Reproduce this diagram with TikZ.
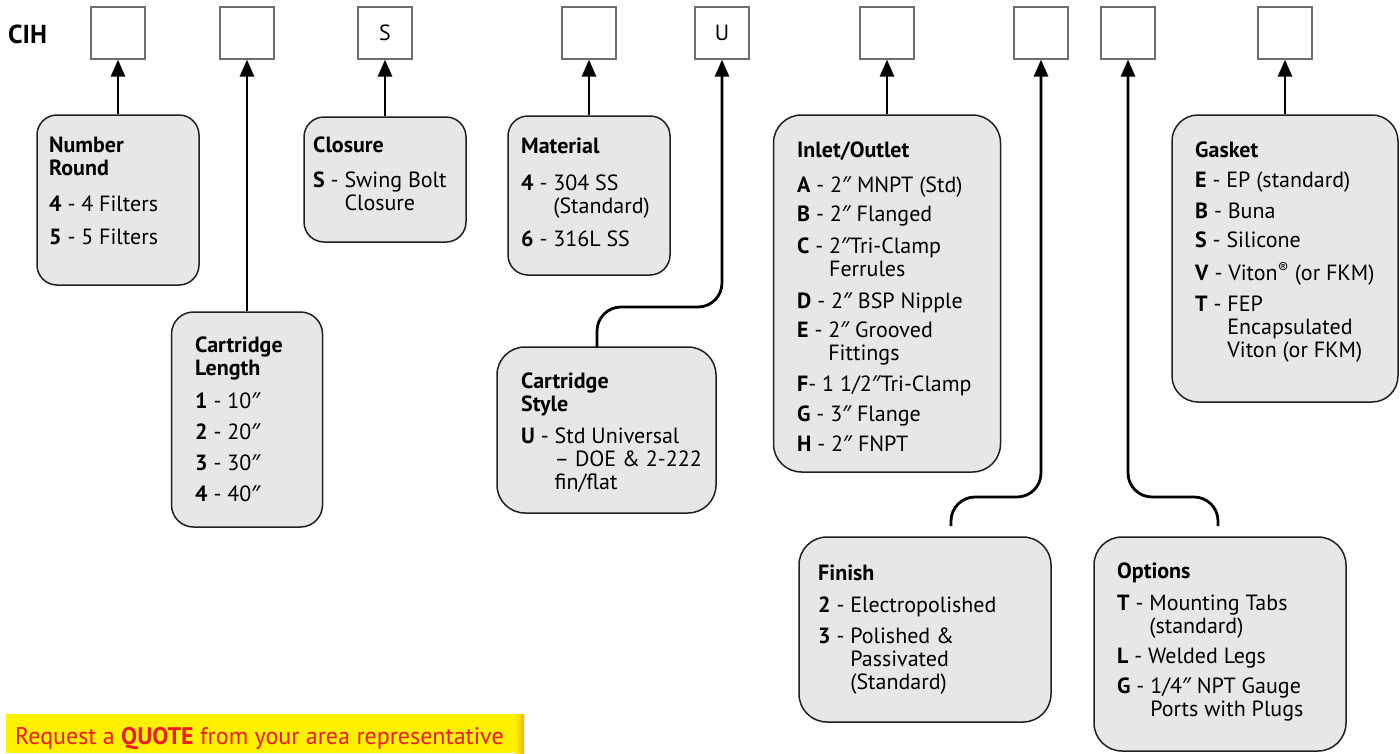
\documentclass[tikz,border=0pt]{standalone}
\usepackage{fontspec}
\setmainfont{PT Sans}
\newfontfamily\inchfont{Noto Sans}
\usetikzlibrary{arrows.meta}
\definecolor{boxfill}{HTML}{E6E7E8}
\definecolor{boxline}{HTML}{231F20}
\definecolor{codeline}{HTML}{6D6E71}
\definecolor{qyellow}{HTML}{FFF200}
\definecolor{qorange}{HTML}{F5B400}
\definecolor{qred}{HTML}{ED1C24}
\newcommand{\ent}[2]{\textbf{#1} - #2}
\newcommand{\ind}[1]{\hphantom{\textbf{#1} - }}
\newcommand{\inch}{{\inchfont ″}}
\begin{document}
\begin{tikzpicture}[x=1pt,y=-1pt,
  codebox/.style={draw=codeline, line width=1.2pt, fill=white, minimum width=54pt, minimum height=52pt, inner sep=0pt, font=\fontsize{22}{23}\selectfont},
  infobox/.style={draw=boxline, line width=1.5pt, fill=boxfill, rounded corners=22pt, inner sep=0pt},
  info/.style={anchor=north west, align=left, inner sep=0pt, font=\fontsize{22}{23}\selectfont},
  conn/.style={line width=2.8pt, draw=black},
  arr/.style={conn, -{Triangle[length=17pt,width=14pt]}},
]
\fill[white] (0,0) rectangle (1400,753);
\useasboundingbox (0,0) rectangle (1400,753);

% code row
\node[anchor=west, inner sep=0pt, font=\fontsize{26}{26}\selectfont\bfseries] (cih) at (8,34) {CIH};
\node[codebox] (b1) at (118,33) {};
\node[codebox] (b2) at (247,33) {};
\node[codebox] (b3) at (385,33) {S};
\node[codebox] (b4) at (589,33) {};
\node[codebox] (b5) at (722,33) {U};
\node[codebox] (b6) at (887,33) {};
\node[codebox] (b7) at (1041,33) {};
\node[codebox] (b8) at (1128,33) {};
\node[codebox] (b9) at (1285,33) {};

% info boxes
\node[infobox, rounded corners=20pt, minimum width=162pt, minimum height=170pt] (nr) at (118,200) {};
\node[infobox, minimum width=151pt, minimum height=215pt] (cl) at (247,419.5) {};
\node[infobox, rounded corners=20pt, minimum width=162pt, minimum height=125pt] (clo) at (385,179.5) {};
\node[infobox, rounded corners=20pt, minimum width=162pt, minimum height=159pt] (mat) at (589,195.5) {};
\node[infobox, rounded corners=28pt, minimum width=219pt, minimum height=166pt] (cs) at (606.5,430) {};
\node[infobox, rounded corners=28pt, minimum width=227pt, minimum height=357pt] (io) at (887,293.5) {};
\node[infobox, rounded corners=28pt, minimum width=252pt, minimum height=185pt] (fin) at (925,629.5) {};
\node[infobox, rounded corners=28pt, minimum width=252pt, minimum height=214pt] (opt) at (1220,644) {};
\node[infobox, rounded corners=26pt, minimum width=226pt, minimum height=287pt] (gas) at (1285,258.5) {};

% texts
\node[info] (nrt) at (49,137) {\textbf{Number}\\\textbf{Round}\\[13pt]\ent{4}{4 Filters}\\[10pt]\ent{5}{5 Filters}};
\node[info] (clt) at (195,337) {\textbf{Cartridge}\\\textbf{Length}\\[10pt]\ent{1}{10\inch}\\[8pt]\ent{2}{20\inch}\\[8pt]\ent{3}{30\inch}\\[8pt]\ent{4}{40\inch}};
\node[info] (clot) at (313,137) {\textbf{Closure}\\[12pt]\ent{S}{Swing Bolt}\\\ind{S}Closure};
\node[info] (matt) at (521,138) {\textbf{Material}\\[14pt]\ent{4}{304 SS}\\\ind{4}(Standard)\\[10pt]\ent{6}{316L SS}};
\node[info] (cst) at (521,373) {\textbf{Cartridge}\\\textbf{Style}\\[9pt]\ent{U}{Std Universal}\\\ind{U}– DOE \& 2-222\\\ind{U}fin/flat};
\node[info] (iot) at (797,142) {\textbf{Inlet/Outlet}\\[12pt]\ent{A}{2\inch{} MNPT (Std)}\\[6pt]\ent{B}{2\inch{} Flanged}\\[9pt]\ent{C}{2\inch Tri-Clamp}\\\ind{C}Ferrules\\[9pt]\ent{D}{2\inch{} BSP Nipple}\\[6pt]\ent{E}{2\inch{} Grooved}\\\ind{E}Fittings\\[8pt]\textbf{F}- 1 1/2\inch Tri-Clamp\\[7pt]\ent{G}{3\inch{} Flange}\\[7pt]\ent{H}{2\inch{} FNPT}};
\node[info] (gast) at (1195,142) {\textbf{Gasket}\\[7pt]\ent{E}{EP (standard)}\\[8pt]\ent{B}{Buna}\\[6pt]\ent{S}{Silicone}\\[10pt]\ent{V}{Viton\textsuperscript{®} (or FKM)}\\[8pt]\ent{T}{FEP}\\\ind{T}Encapsulated\\\ind{T}Viton (or FKM)};
\node[info] (fint) at (818,565) {\textbf{Finish}\\[9pt]\ent{2}{Electropolished}\\[8pt]\ent{3}{Polished \&}\\\ind{3}Passivated\\\ind{3}(Standard)};
\node[info] (optt) at (1117,563) {\textbf{Options}\\[9pt]\ent{T}{Mounting Tabs}\\\ind{T}(standard)\\[7pt]\ent{L}{Welded Legs}\\[7pt]\ent{G}{1/4\inch{} NPT Gauge}\\\ind{G}Ports with Plugs};

% connectors
\draw[arr] (nr.north) -- (b1.south);
\draw[arr] (cl.north) -- (b2.south);
\draw[arr] (clo.north) -- (b3.south);
\draw[arr] (mat.north) -- (b4.south);
\draw[arr] (io.north) -- (b6.south);
\draw[arr] (gas.north) -- (b9.south);
\coordinate (csc) at (597,347);
\draw[arr, rounded corners=24pt] (csc) -- ++(0,-40) -| (b5.south);
\coordinate (fc) at (951,526);
\draw[arr, rounded corners=24pt] (fc) -- ++(0,-29) -| (b7.south);
\coordinate (oc) at (1218,526);
\draw[arr, rounded corners=24pt] (oc) -- ++(0,-29) -| (b8.south);

% quote bar
\node[fill=qyellow, minimum width=518pt, minimum height=39pt, inner sep=0pt] (bar) at (265,733.5) {};
\shade[left color=qyellow, right color=qorange] (515,714) rectangle (524,753);
\node[anchor=base west, inner sep=0pt, text=qred, font=\fontsize{24}{24}\selectfont] (qt) at (15,744) {Request a \textbf{QUOTE} from your area representative};
\end{tikzpicture}
\end{document}
